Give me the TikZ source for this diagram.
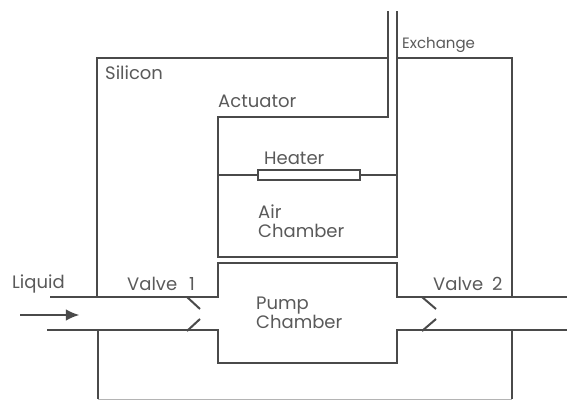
\documentclass[tikz,border=0pt]{standalone}
\usepackage{fontspec}
\setmainfont{Poppins}
\usetikzlibrary{arrows.meta,positioning}
\definecolor{Wall}{HTML}{4A4A4A}
\definecolor{Label}{HTML}{5A5A5A}
\definecolor{Faint}{HTML}{B4B4B4}
\begin{document}
\begin{tikzpicture}[x=1pt,y=-1pt,
  wall/.style={draw=Wall,line width=1.3pt,line join=miter},
  flap/.style={draw=Wall,line width=2pt},
  arrow/.style={-{Latex[length=4.6mm,width=4mm]},draw=Wall,line width=1.1pt},
  label/.style={text=Label,inner sep=0pt,font=\fontsize{18}{19}\selectfont,align=left,anchor=west},
  heaterbox/.style={draw=Wall,line width=1.3pt,fill=white,minimum width=102pt,minimum height=10pt,inner sep=0pt}]
\useasboundingbox (0,0) rectangle (567,401);
\fill[white] (0,0) rectangle (567,401);
\draw[wall] (388,11)--(388,117)--(218,117)--(218,257)--(397,257)--(397,11);
\draw[wall] (97,297)--(97,58)--(388,58);
\draw[wall] (397,58)--(512,58)--(512,297);
\draw[wall] (50,297)--(218,297)--(218,263)--(397,263)--(397,297)--(567,297);
\draw[wall] (47,330)--(218,330)--(218,363)--(397,363)--(397,330)--(567,330);
\draw[wall] (98,330)--(98,399);
\draw[wall] (512,330)--(512,399);
\draw[draw=Faint,line width=1pt] (98,399)--(512,399);
\node[heaterbox](heater) at (309,175){};
\coordinate (actleft) at (218,175);
\coordinate (actright) at (397,175);
\draw[wall](actleft)--(heater);\draw[wall](heater)--(actright);
\draw[flap] (187,297)--(200,309);\draw[flap] (187,331)--(200,319);
\draw[flap] (422,297)--(436,309);\draw[flap] (422,331)--(436,319);
\coordinate (flowin) at (20,315);
\coordinate (flowout) at (79,315);
\draw[arrow](flowin)--(flowout);
\node[label](silicon) at (105,73){Silicon};
\node[label,font=\fontsize{15}{17}\selectfont](exchange) at (402,45){Exchange};
\node[label](actuator) at (218,101){Actuator};
\node[label](heatertext) at (264,158){Heater};
\node[label](air) at (258,221){Air\\Chamber};
\node[label](pump) at (256,312.5){Pump\\Chamber};
\node[label](liquid) at (12,284){Liquid};
\node[label](valvea) at (127,284){Valve\hspace{12pt}1};
\node[label](valveb) at (433,284){Valve\hspace{9pt}2};
\end{tikzpicture}
\end{document}
